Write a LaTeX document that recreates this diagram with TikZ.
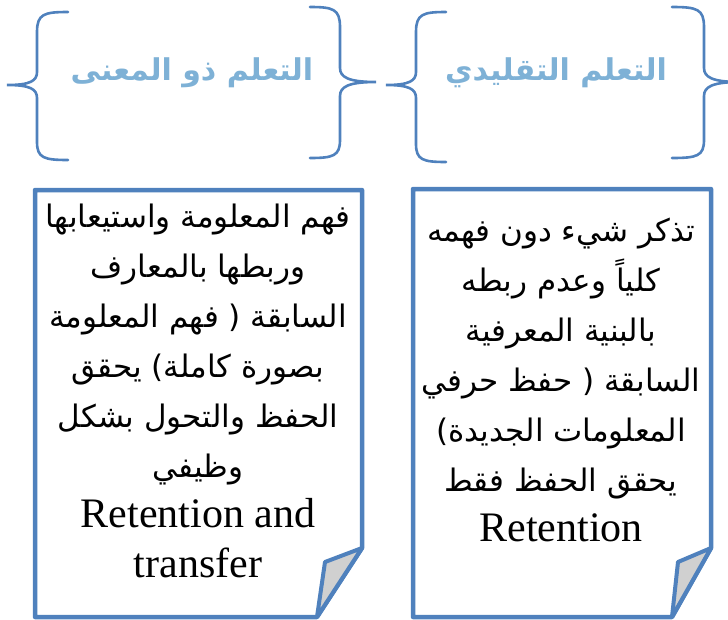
\documentclass[tikz,border=0pt]{standalone}
\usepackage{fontspec}
\setmainfont{Liberation Serif}
\newfontfamily\arabicfont[Script=Arabic]{DejaVu Sans}
\TeXXeTstate=1
\newcommand{\arline}[1]{{\arabicfont\beginR #1\endR}}
\newcommand{\notearline}[1]{{\fontsize{31}{50}\selectfont\arline{#1}}}
\definecolor{noteblue}{RGB}{79,129,189}
\definecolor{titleblue}{RGB}{126,177,214}
\definecolor{foldgray}{RGB}{208,208,208}

\begin{document}
\begin{tikzpicture}[x=1pt, y=-1pt,
	curl/.style={draw=noteblue, line width=2.6pt, line cap=round},
	note/.style={draw=noteblue, line width=4.5pt, line join=round, fill=white},
	fold/.style={draw=noteblue, line width=4pt, line join=round, fill=foldgray},
	title/.style={text=titleblue, font=\fontsize{30}{36}\selectfont\bfseries},
	body/.style={anchor=north, align=center, inner sep=0pt, font=\fontsize{42}{50}\selectfont}]
	\useasboundingbox (0,0) rectangle (728,619);
	% braces round the titles
	\draw[curl] (68,12) .. controls (44,12) and (37,14) .. (37,32) -- (37,72) .. controls (37,81) and (30,85) .. (7,85) .. controls (30,85) and (37,89) .. (37,98) -- (37,142) .. controls (37,158) and (44,160) .. (68,160);
	\draw[curl] (310,7) .. controls (333,7) and (340,9) .. (340,27) -- (340,68) .. controls (340,77) and (348,82) .. (376,82) .. controls (348,82) and (340,87) .. (340,96) -- (340,140) .. controls (340,156) and (333,158) .. (310,158);
	\draw[curl] (446,12) .. controls (423,12) and (416,14) .. (416,32) -- (416,72) .. controls (416,81) and (409,85) .. (386,85) .. controls (409,85) and (416,89) .. (416,98) -- (416,144) .. controls (416,160) and (423,162) .. (446,162);
	\draw[curl] (672,7) .. controls (697,7) and (704,9) .. (704,27) -- (704,68) .. controls (704,77) and (712,82) .. (740,82) .. controls (712,82) and (704,87) .. (704,96) -- (704,140) .. controls (704,156) and (697,158) .. (672,158);
	\node[title] (meaningful) at (192,73) {\arline{التعلم ذو المعنى}};
	\node[title] (traditional) at (556,73) {\arline{التعلم التقليدي}};
	% notes with a turned corner
	\draw[note] (35,190) -- (362,190) -- (362,548) -- (317,617) -- (35,617) -- cycle;
	\draw[fold] (362,548) -- (325,562) -- (317,617) -- cycle;
	\draw[note] (413,189) -- (711,189) -- (711,548) -- (672,617) -- (413,617) -- cycle;
	\draw[fold] (711,548) -- (678,562) -- (672,617) -- cycle;
	\node[body] (meaningnote) at (198,204) {
		\notearline{فهم المعلومة واستيعابها}\\
		\notearline{وربطها بالمعارف}\\
		\notearline{السابقة ( فهم المعلومة}\\
		\notearline{بصورة كاملة) يحقق}\\
		\notearline{الحفظ والتحول بشكل}\\
		\notearline{وظيفي}\\
		Retention and\\
		transfer};
	\node[body] (rotenote) at (561,218) {
		\notearline{تذكر شيء دون فهمه}\\
		\notearline{كلياً وعدم ربطه}\\
		\notearline{بالبنية المعرفية}\\
		\notearline{السابقة ( حفظ حرفي}\\
		\notearline{المعلومات الجديدة)}\\
		\notearline{يحقق الحفظ فقط}\\
		Retention};
\end{tikzpicture}
\end{document}
